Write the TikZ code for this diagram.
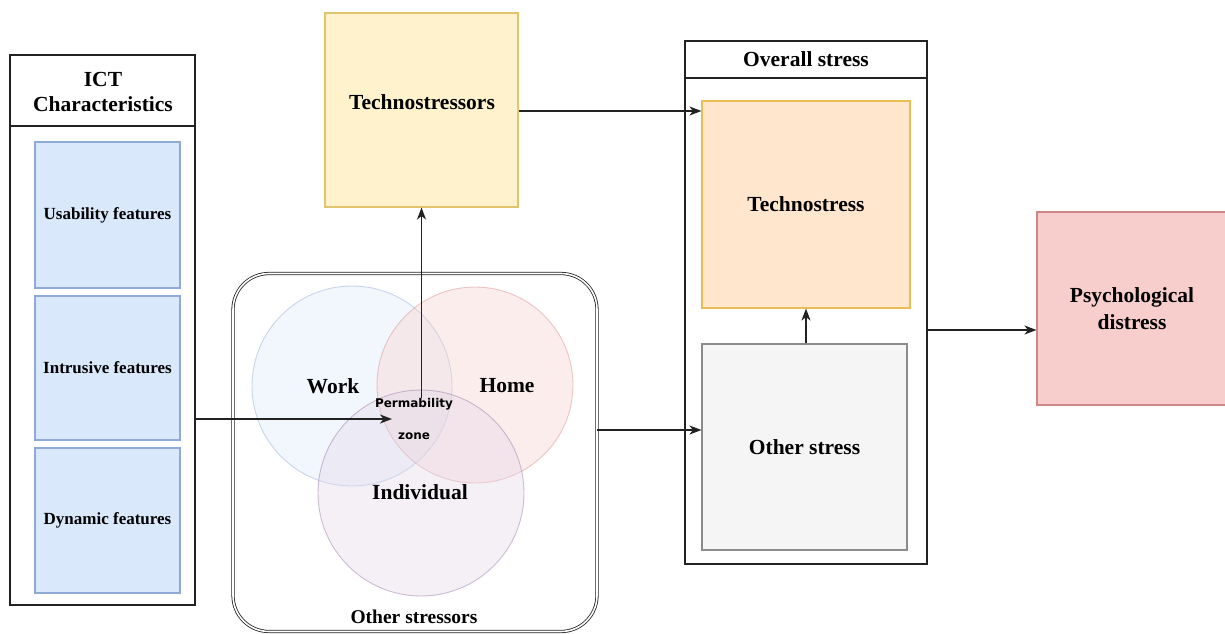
\documentclass[tikz,border=0pt]{standalone}
\usepackage{fontspec}
\setmainfont{Liberation Serif}
\newfontfamily\permfont{DejaVu Sans}
\usetikzlibrary{arrows.meta}
\definecolor{blueF}{HTML}{DAE8FC}
\definecolor{blueS}{HTML}{8FAAD6}
\definecolor{yelF}{HTML}{FFF2CC}
\definecolor{yelS}{HTML}{E3C46E}
\definecolor{oraF}{HTML}{FFE6CC}
\definecolor{oraS}{HTML}{E9BE55}
\definecolor{grayF}{HTML}{F5F5F5}
\definecolor{grayS}{HTML}{8C8C8C}
\definecolor{pinkF}{HTML}{F8CECC}
\definecolor{pinkS}{HTML}{D88A88}
\definecolor{purF}{HTML}{E1D5E7}
\definecolor{purS}{HTML}{9673A6}
\definecolor{redF}{HTML}{F8CECC}
\definecolor{redS}{HTML}{B85450}
\definecolor{lineC}{HTML}{222222}
\tikzset{
  box/.style={draw, line width=1.1pt, rectangle, inner sep=0pt, anchor=center},
  bigtxt/.style={font=\bfseries\fontsize{21.5}{26}\selectfont, align=center},
  smalltxt/.style={font=\bfseries\fontsize{17}{20}\selectfont, align=center},
  cont/.style={draw=lineC, line width=1.1pt},
  conn/.style={draw=lineC, line width=1.2pt, -{Stealth[length=12pt,width=9pt,inset=3.5pt]}},
  venn/.style={circle, inner sep=0pt, line width=0.9pt, fill opacity=0.35, draw opacity=0.45},
}
\begin{document}
\begin{tikzpicture}[x=1pt,y=-1pt]
\useasboundingbox (0,0) rectangle (1225,633);
\fill[white] (0,0) rectangle (1225,633);

% ICT container
\draw[cont] (10,55) rectangle (195,605);
\draw[cont] (10,126) -- (195,126);
\node[bigtxt, font=\bfseries\fontsize{21.5}{25}\selectfont] (icth) at (103,92) {ICT\\Characteristics};
\node[box, draw=blueS, fill=blueF, minimum width=145pt, minimum height=146pt, smalltxt] (usab) at (107.5,215) {Usability features};
\node[box, draw=blueS, fill=blueF, minimum width=145pt, minimum height=144pt, smalltxt] (intr) at (107.5,368) {Intrusive features};
\node[box, draw=blueS, fill=blueF, minimum width=145pt, minimum height=145pt, smalltxt] (dyn) at (107.5,520.5) {Dynamic features};
\node[inner sep=0pt, minimum width=185pt, minimum height=550pt] (ict) at (102.5,330) {};

% Other stressors rounded box
\node[draw=lineC, double, double distance=1.6pt, line width=0.8pt, rounded corners=36pt, minimum width=364pt, minimum height=358pt, inner sep=0pt] (osbox) at (415,452.5) {};
\node[venn, fill=blueF, draw=blueS, minimum size=200pt] (work) at (352,386) {};
\node[venn, fill=pinkF, draw=pinkS, minimum size=196pt] (home) at (475,385) {};
\node[venn, fill=purF, draw=purS, minimum size=206pt] (indiv) at (421,493) {};
\node[bigtxt] (worktxt) at (333,386) {Work};
\node[bigtxt] (hometxt) at (507,386) {Home};
\node[bigtxt] (indtxt) at (420,492) {Individual};
\node[font=\bfseries\fontsize{19.5}{22}\selectfont] (oslabel) at (414,617) {Other stressors};
\node[font=\permfont\bfseries\fontsize{12}{32}\selectfont, align=center, inner sep=0pt] (perm) at (414,419) {Permability\\zone};

% Technostressors
\node[box, draw=yelS, fill=yelF, minimum width=193pt, minimum height=194pt] (techs) at (421.5,110) {};
\node[bigtxt] (techstxt) at (422,102) {Technostressors};

% Overall stress container
\draw[cont] (685,41) rectangle (927,564);
\draw[cont] (685,78) -- (927,78);
\node[bigtxt] (ovh) at (806,59.5) {Overall stress};
\node[inner sep=0pt, minimum width=242pt, minimum height=523pt] (overall) at (806,302.5) {};
\node[box, draw=oraS, fill=oraF, minimum width=208pt, minimum height=207pt, bigtxt] (techn) at (806,204.5) {Technostress};
\node[box, draw=grayS, fill=grayF, minimum width=205pt, minimum height=206pt, bigtxt] (ostress) at (804.5,447) {Other stress};

% Psychological distress
\node[box, draw=redS!70, fill=redF, minimum width=190pt, minimum height=193pt, bigtxt, font=\bfseries\fontsize{21.5}{27}\selectfont] (psych) at (1132,308.5) {Psychological\\distress};

% connectors
\coordinate (yict) at (0,419);
\coordinate (permin) at (392,419);
\draw[conn] (ict.east |- yict) -- (permin);
\draw[conn] (techs.south |- perm.north) -- (techs.south);
\coordinate (ytech) at (0,111);
\draw[conn] (techs.east |- ytech) -- (techn.west |- ytech);
\coordinate (yos) at (0,430);
\draw[conn] (osbox.east |- yos) -- (ostress.west |- yos);
\draw[conn] (ostress.north -| techn.south) -- (techn.south);
\coordinate (ypsy) at (0,330);
\draw[conn] (overall.east |- ypsy) -- (psych.west |- ypsy);
\end{tikzpicture}
\end{document}
